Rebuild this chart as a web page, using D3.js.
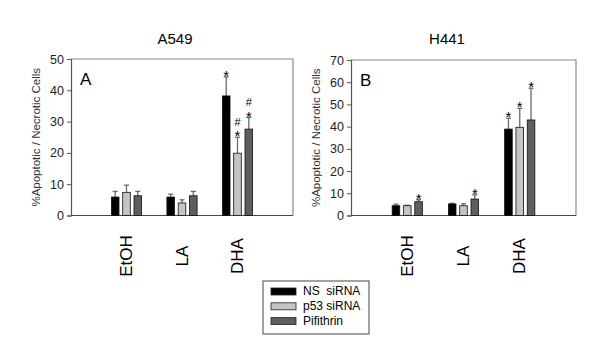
<!DOCTYPE html>
<html>
<head>
<meta charset="utf-8">
<script src="https://cdn.jsdelivr.net/npm/d3@7"></script>
<style>
  body { margin: 0; background: #fff; }
  text { font-family: "Liberation Sans", Arial, sans-serif; }
</style>
</head>
<body>
<svg id="chart" width="609" height="360"></svg>
<script>
// treatments along the x axis and the three siRNA / drug series
const treatments = ['EtOH', 'LA', 'DHA'];
const seriesNames = ['NS  siRNA', 'p53 siRNA', 'Pifithrin'];
const seriesColors = ['#000000', '#c4c4c4', '#5e5e5e'];

// A549 (panel A): means and upper error (mean + sd), per series, per treatment
const a549Means = [[5.9, 5.9, 38.2], [7.4, 4.0, 19.9], [6.3, 6.3, 27.6]];
const a549Upper = [[7.7, 6.8, 44.3], [9.7, 5.0, 25.0], [7.7, 7.7, 31.3]];
const a549Marks = [['', '', '*'], ['', '', '#*'], ['', '', '#*']];
const a549Ticks = [0, 10, 20, 30, 40, 50];

// H441 (panel B)
const h441Means = [[4.4, 5.2, 38.9], [4.4, 4.4, 39.7], [6.2, 7.4, 43.0]];
const h441Upper = [[5.1, 5.5, 43.8], [4.6, 5.3, 48.2], [7.1, 9.3, 57.3]];
const h441Marks = [['', '', '*'], ['', '', '*'], ['*', '*', '*']];
const h441Ticks = [0, 10, 20, 30, 40, 50, 60, 70];

const svg = d3.select('#chart');

function drawPanel(p) {
  const g = svg.append('g');
  const x = d3.scaleLinear().domain([0, 4]).range([p.left, p.right]);
  const y = d3.scaleLinear().domain([0, p.max]).range([p.bottom, p.top]);
  const barW = 7.6, step = 11.3;

  // frame: top and right in light gray
  g.append('path')
    .attr('d', `M${p.left},${p.top}H${p.right}V${p.bottom}`)
    .attr('fill', 'none').attr('stroke', '#8a8a8a').attr('stroke-width', 1.2);

  const yAxis = g.append('g')
    .attr('transform', `translate(${p.left},0)`)
    .call(d3.axisLeft(y).tickValues(p.ticks).tickSize(4).tickPadding(3));
  yAxis.select('.domain').attr('stroke', '#555').attr('stroke-width', 1.2);
  yAxis.selectAll('.tick line').attr('stroke', '#555');
  yAxis.selectAll('.tick text')
    .attr('font-size', 12.5).attr('fill', '#222')
    .style('font-family', '"Liberation Sans", Arial, sans-serif');

  g.append('line')
    .attr('x1', p.left).attr('x2', p.right)
    .attr('y1', p.bottom).attr('y2', p.bottom)
    .attr('stroke', '#444').attr('stroke-width', 1.2);

  // panel title, letter, y title
  g.append('text').attr('x', p.titleX).attr('y', 44)
    .attr('text-anchor', 'middle').attr('font-size', 15).text(p.title);
  g.append('text').attr('x', p.left + 9).attr('y', p.top + 26)
    .attr('font-size', 17).text(p.letter);
  g.append('text')
    .attr('transform', `translate(${p.left - 31},${(p.top + p.bottom) / 2}) rotate(-90)`)
    .attr('text-anchor', 'middle').attr('font-size', 11.5).attr('fill', '#333')
    .text('%Apoptotic / Necrotic Cells');

  // category labels, rotated
  treatments.forEach((t, i) => {
    g.append('text')
      .attr('transform', `translate(${x(i + 1) + 5.5},256) rotate(-90)`)
      .attr('text-anchor', 'middle').attr('font-size', 17).text(t);
  });

  seriesNames.forEach((s, si) => {
    const cx = i => x(i + 1) + (si - 1) * step;
    const sg = g.append('g');

    // error bars above each bar
    sg.selectAll('line.err').data(p.upper[si]).join('line')
      .attr('x1', (d, i) => cx(i)).attr('x2', (d, i) => cx(i))
      .attr('y1', (d, i) => y(p.means[si][i])).attr('y2', d => y(d))
      .attr('stroke', '#6a6a6a').attr('stroke-width', 1.3);
    sg.selectAll('line.cap').data(p.upper[si]).join('line')
      .attr('x1', (d, i) => cx(i) - 2.5).attr('x2', (d, i) => cx(i) + 2.5)
      .attr('y1', d => y(d)).attr('y2', d => y(d))
      .attr('stroke', '#6a6a6a').attr('stroke-width', 1.3);

    sg.selectAll('rect').data(p.means[si]).join('rect')
      .attr('x', (d, i) => cx(i) - barW / 2)
      .attr('y', d => y(d))
      .attr('width', barW)
      .attr('height', d => p.bottom - y(d))
      .attr('fill', seriesColors[si])
      .attr('stroke', '#111').attr('stroke-width', 0.8);

    // significance marks
    p.marks[si].forEach((m, i) => {
      if (!m) return;
      const top = y(p.upper[si][i]);
      if (m.includes('*')) {
        g.append('text').attr('x', cx(i)).attr('y', top + 4)
          .attr('text-anchor', 'middle').attr('font-size', 15).text('*');
      }
      if (m.includes('#')) {
        g.append('text').attr('x', cx(i)).attr('y', top - 11.5)
          .attr('text-anchor', 'middle').attr('font-size', 11).text('#');
      }
    });
  });
}

drawPanel({
  title: 'A549', letter: 'A', titleX: 175,
  left: 71, right: 293, top: 59, bottom: 215.5, max: 50,
  ticks: a549Ticks, means: a549Means, upper: a549Upper, marks: a549Marks
});
drawPanel({
  title: 'H441', letter: 'B', titleX: 447,
  left: 351, right: 576, top: 60, bottom: 215.5, max: 70,
  ticks: h441Ticks, means: h441Means, upper: h441Upper, marks: h441Marks
});

// legend
const legend = svg.append('g').attr('transform', 'translate(263,281)');
legend.append('rect').attr('width', 106).attr('height', 53)
  .attr('fill', '#fff').attr('stroke', '#444').attr('stroke-width', 1);
seriesNames.forEach((s, i) => {
  legend.append('rect')
    .attr('x', 8).attr('y', 7 + i * 14.8).attr('width', 25).attr('height', 7)
    .attr('fill', seriesColors[i]).attr('stroke', '#222').attr('stroke-width', 0.8);
  legend.append('text')
    .attr('x', 40).attr('y', 14 + i * 14.8)
    .attr('font-size', 12).attr('xml:space', 'preserve').text(s);
});
</script>
</body>
</html>
